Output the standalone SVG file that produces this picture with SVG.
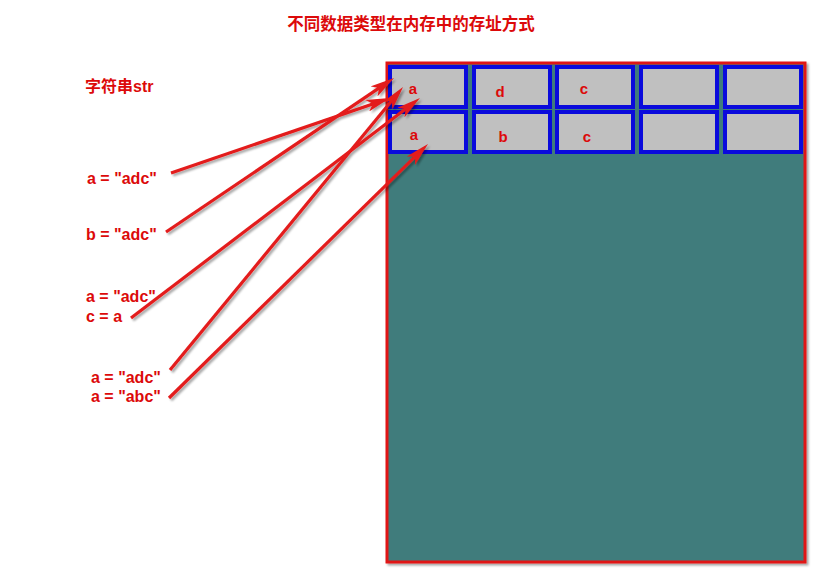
<svg xmlns="http://www.w3.org/2000/svg" width="822" height="580" viewBox="0 0 822 580">
<defs>
<style>
.t{font-family:"Liberation Sans","Noto Sans CJK SC",sans-serif;font-weight:bold;fill:#DC0A0A;}
.lbl{font-size:16px;}
.cell{fill:#C0C0C0;stroke:#0A0ADC;stroke-width:4;}
.cl{font-size:15px;text-anchor:middle;}
.conn{stroke:#E31B1B;stroke-width:3.2;fill:none;marker-end:url(#ah);}
</style>
<filter id="sh" x="-10%" y="-10%" width="130%" height="130%">
<feDropShadow dx="2" dy="2" stdDeviation="1.2" flood-color="#000" flood-opacity="0.35"/>
</filter>
<marker id="ah" viewBox="0 0 24 12" refX="12" refY="6" markerWidth="24" markerHeight="12" markerUnits="userSpaceOnUse" orient="auto">
<path d="M0,0 L24,6 L0,12 L6,6 z" fill="#E31B1B"/>
</marker>
</defs>
<rect width="822" height="580" fill="#fff"/>
<text id="title" class="t" x="411" y="30" font-size="16.5" text-anchor="middle">不同数据类型在内存中的存址方式</text>
<g id="memory">
<rect x="387" y="63" width="418" height="499" fill="#417B7B" stroke="#E01818" stroke-width="3" filter="url(#sh)"/>
</g>
<g id="cell-r1c1"><rect class="cell" x="390" y="67" width="76" height="40"/><text class="t cl" x="413" y="94">a</text></g>
<g id="cell-r1c2"><rect class="cell" x="474" y="67" width="76" height="40"/><text class="t cl" x="500" y="97">d</text></g>
<g id="cell-r1c3"><rect class="cell" x="557" y="67" width="76" height="40"/><text class="t cl" x="584" y="94">c</text></g>
<g id="cell-r1c4"><rect class="cell" x="641" y="67" width="76" height="40"/></g>
<g id="cell-r1c5"><rect class="cell" x="725" y="67" width="76" height="40"/></g>
<g id="cell-r2c1"><rect class="cell" x="390" y="112" width="76" height="40"/><text class="t cl" x="414" y="140">a</text></g>
<g id="cell-r2c2"><rect class="cell" x="474" y="112" width="76" height="40"/><text class="t cl" x="503" y="142">b</text></g>
<g id="cell-r2c3"><rect class="cell" x="557" y="112" width="76" height="40"/><text class="t cl" x="587" y="142">c</text></g>
<g id="cell-r2c4"><rect class="cell" x="641" y="112" width="76" height="40"/></g>
<g id="cell-r2c5"><rect class="cell" x="725" y="112" width="76" height="40"/></g>
<g id="label-str"><text class="t lbl" x="85" y="92">字符串str</text></g>
<g id="label-1"><text class="t lbl" x="87" y="184">a = &quot;adc&quot;</text></g>
<g id="label-2"><text class="t lbl" x="86" y="240">b = &quot;adc&quot;</text></g>
<g id="label-3"><text class="t lbl" x="86" y="302">a = &quot;adc&quot;</text><text class="t lbl" x="86" y="322">c = a</text></g>
<g id="label-4"><text class="t lbl" x="91" y="383">a = &quot;adc&quot;</text><text class="t lbl" x="91" y="402">a = &quot;abc&quot;</text></g>
<g id="connectors" filter="url(#sh)">
<line class="conn" x1="171" y1="173" x2="378.6" y2="101.9"/>
<line class="conn" x1="166" y1="232" x2="384.1" y2="84.7"/>
<line class="conn" x1="131" y1="318" x2="410.4" y2="105.3"/>
<line class="conn" x1="170" y1="370" x2="395.4" y2="96.3"/>
<line class="conn" x1="169" y1="398" x2="419.4" y2="152.4"/>
</g>
</svg>
